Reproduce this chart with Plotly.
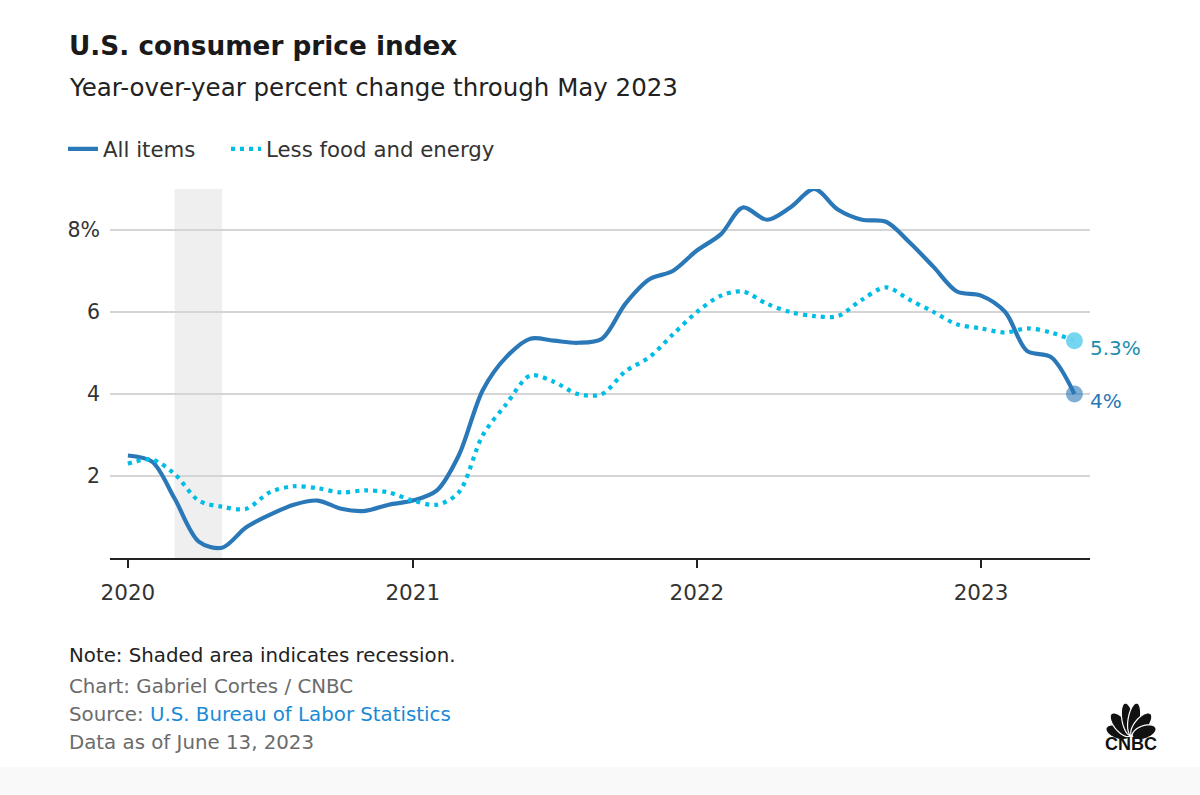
import numpy as np
import pandas as pd
import plotly.graph_objects as go

# ---------------- data ----------------
months = pd.date_range("2020-01-01", "2023-05-01", freq="MS")

all_items = [2.5, 2.35, 1.45, 0.4, 0.25, 0.75, 1.05, 1.3, 1.4, 1.2, 1.15, 1.3,
             1.4, 1.65, 2.5, 4.1, 4.9, 5.35, 5.3, 5.25, 5.35, 6.2, 6.8, 7.0,
             7.5, 7.9, 8.55, 8.25, 8.55, 9.0, 8.5, 8.25, 8.2, 7.7, 7.1, 6.5,
             6.4, 6.0, 5.05, 4.9, 4.0]

core = [2.3, 2.4, 2.05, 1.4, 1.25, 1.2, 1.6, 1.75, 1.7, 1.6, 1.65, 1.6,
        1.4, 1.3, 1.6, 3.0, 3.75, 4.45, 4.3, 4.0, 4.0, 4.55, 4.9, 5.45,
        6.0, 6.4, 6.5, 6.2, 6.0, 5.9, 5.9, 6.3, 6.6, 6.3, 6.0, 5.7,
        5.6, 5.5, 5.6, 5.5, 5.3]

series_names = ["All items", "Less food and energy"]
end_labels = ["4%", "5.3%"]
y_tickvals = [2, 4, 6, 8]
y_ticktext = ["2", "4", "6", "8%"]
recession = ["2020-03-01", "2020-05-01"]

# ---------------- layout helpers ----------------
W, H = 1200, 795
L, R, T, B = 110, 110, 189, 237
PW, PH = W - L - R, H - T - B
FONT = "DejaVu Sans"


def px(x):
    return (x - L) / PW


def py(y):
    return (H - B - y) / PH


C_ALL = "#2a78b7"
C_CORE = "#00bde6"

fig = go.Figure()

fig.add_trace(go.Scatter(
    x=months, y=all_items, name=series_names[0], mode="lines", legend="legend",
    line=dict(color=C_ALL, width=4.2, shape="spline", smoothing=0.9),
    hoverinfo="skip"))
fig.add_trace(go.Scatter(
    x=months, y=core, name=series_names[1], mode="lines", legend="legend2",
    line=dict(color=C_CORE, width=4.2, shape="spline", smoothing=0.9, dash="4px,5px"),
    hoverinfo="skip"))

# end markers
fig.add_trace(go.Scatter(
    x=[months[-1]], y=[core[-1]], mode="markers", showlegend=False,
    marker=dict(size=17, color="#6fd3ee", opacity=0.95), hoverinfo="skip"))
fig.add_trace(go.Scatter(
    x=[months[-1]], y=[all_items[-1]], mode="markers", showlegend=False,
    marker=dict(size=17, color="#2a78b7", opacity=0.6), hoverinfo="skip"))

# end labels
fig.add_annotation(x=months[-1], y=core[-1], text=end_labels[1], showarrow=False,
                   xanchor="left", yanchor="middle", xshift=14, yshift=-7,
                   font=dict(family=FONT, size=20, color="#1d8db0"))
fig.add_annotation(x=months[-1], y=all_items[-1], text=end_labels[0], showarrow=False,
                   xanchor="left", yanchor="middle", xshift=14, yshift=-7,
                   font=dict(family=FONT, size=20, color="#2a76b6"))

# recession shading
fig.add_shape(type="rect", xref="x", yref="paper", x0=recession[0], x1=recession[1],
              y0=0, y1=1, fillcolor="#efefef", line=dict(width=0), layer="below")

# light strip at the bottom
fig.add_shape(type="rect", xref="paper", yref="paper", x0=px(0), x1=px(W),
              y0=py(H), y1=py(767), fillcolor="#f9f9f9", line=dict(width=0), layer="below")

# ---------------- texts ----------------
def text(x, y, s, size, color, bold=False):
    fig.add_annotation(xref="paper", yref="paper", x=px(x), y=py(y), text=(f"<b>{s}</b>" if bold else s),
                       showarrow=False, xanchor="left", yanchor="middle",
                       font=dict(family=FONT, size=size, color=color))


text(67, 46, "U.S. consumer price index", 26.3, "#1a1a1a", bold=True)
text(67, 88, "Year-over-year percent change through May 2023", 24.5, "#222222")
text(67, 655, "Note: Shaded area indicates recession.", 19.8, "#222222")
text(67, 686, "Chart: Gabriel Cortes / CNBC", 19.8, "#6b6b6b")
text(67, 714, "Source: <span style='color:#1a8ad6'>U.S. Bureau of Labor Statistics</span>", 19.8, "#6b6b6b")
text(67, 742, "Data as of June 13, 2023", 19.8, "#6b6b6b")

# ---------------- CNBC logo ----------------
bx, by = 1131, 737
petals = [(160, 25, 13), (130, 29, 13), (100, 33, 12), (80, 33, 12), (50, 29, 13), (20, 25, 13)]
t = np.linspace(0, 2 * np.pi, 40)
for ang, ln, wd in petals:
    a = np.deg2rad(ang)
    d = ln / 2 + 1.5
    cx, cy = bx + d * np.cos(a), by - d * np.sin(a)
    ex = (ln / 2) * np.cos(t)
    ey = (wd / 2) * np.sin(t)
    xs = cx + ex * np.cos(a) - ey * np.sin(a)
    ys = cy - (ex * np.sin(a) + ey * np.cos(a))
    path = "M " + " L ".join(f"{px(xx):.5f},{py(yy):.5f}" for xx, yy in zip(xs, ys)) + " Z"
    fig.add_shape(type="path", xref="paper", yref="paper", path=path,
                  fillcolor="#111111", line=dict(width=1.2, color="white"))
fig.add_annotation(xref="paper", yref="paper", x=px(1131), y=py(744), text="<b>CNBC</b>",
                   showarrow=False, xanchor="center", yanchor="middle",
                   font=dict(family="Liberation Sans", size=18, color="#111111"))

# ---------------- axes ----------------
fig.update_xaxes(
    range=["2019-12-09", "2023-05-21"], type="date",
    tickvals=["2020-01-01", "2021-01-01", "2022-01-01", "2023-01-01"],
    tickformat="%Y", showgrid=False, zeroline=False,
    showline=True, linecolor="#222222", linewidth=2,
    ticks="outside", ticklen=8, tickwidth=2, tickcolor="#222222",
    tickfont=dict(family=FONT, size=21.5, color="#333333"),
    ticklabelstandoff=6, fixedrange=True)
fig.update_yaxes(
    range=[0, 9], tickvals=y_tickvals, ticktext=y_ticktext,
    showgrid=True, gridcolor="#d5d5d5", gridwidth=1.5, zeroline=False,
    showline=False, ticks="",
    tickfont=dict(family=FONT, size=20.5, color="#333333"),
    ticklabelstandoff=9, fixedrange=True)

legend_common = dict(orientation="h", xanchor="left", yanchor="middle",
                     font=dict(family=FONT, size=21.3, color="#333333"),
                     bgcolor="rgba(0,0,0,0)", borderwidth=0)

fig.update_layout(
    width=W, height=H, margin=dict(l=L, r=R, t=T, b=B, autoexpand=False),
    paper_bgcolor="white", plot_bgcolor="white",
    font=dict(family=FONT, color="#333333"),
    showlegend=True,
    legend=dict(x=px(63), y=py(149), **legend_common),
    legend2=dict(x=px(226), y=py(149), **legend_common),
)

fig.write_html("out.html")
